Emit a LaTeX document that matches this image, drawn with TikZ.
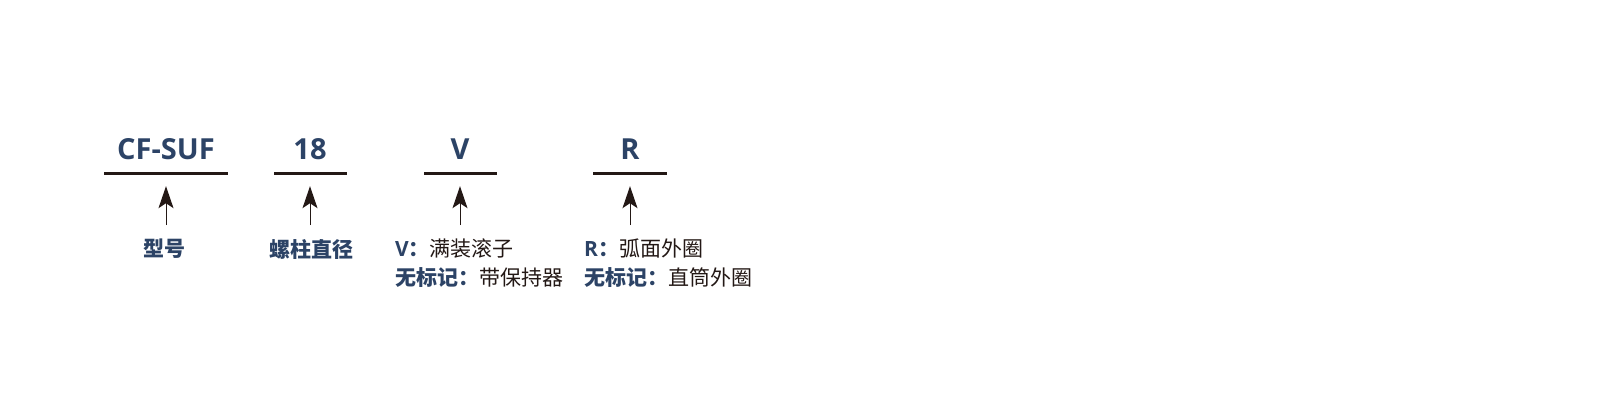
\documentclass[tikz,border=0pt]{standalone}
\usepackage{fontspec}
\setmainfont{Open Sans}
\newfontfamily\cjk{Noto Sans CJK SC}
\usetikzlibrary{arrows.meta}
\definecolor{navy}{HTML}{2C4366}
\definecolor{ink}{HTML}{231815}

\begin{document}
\begin{tikzpicture}[x=1pt, y=-1pt,
    code/.style={anchor=base, inner sep=0pt, text=navy, font=\fontsize{29}{31}\selectfont\bfseries},
    rule/.style={fill=ink, minimum height=3pt, inner sep=0pt},
    note/.style={inner sep=0pt, text=navy, align=left, font=\fontsize{21}{29}\selectfont},
    pointer/.style={-{Stealth[length=22pt, width=15pt, inset=5pt]}, draw=ink, line width=1pt,
      shorten <=14pt, shorten >=11.5pt}]
  \useasboundingbox (0,0) rectangle (1600,400);

  \node[code] (c1) at (166, 159) {CF-SUF};
  \node[code] (c2) at (310, 159) {18};
  \node[code] (c3) at (460, 159) {V};
  \node[code] (c4) at (630, 159) {R};

  \node[rule, minimum width=124pt] (u1) at (166, 173) {};
  \node[rule, minimum width=73pt] (u2) at (310, 173) {};
  \node[rule, minimum width=73pt] (u3) at (460, 173) {};
  \node[rule, minimum width=74pt] (u4) at (630, 173) {};

  \node[note, anchor=north] (d1) at (164, 239) {\cjk\bfseries 型号};
  \node[note, anchor=north] (d2) at (311, 239) {\cjk\bfseries 螺柱直径};
  \node[note, anchor=north west] (d3) at (395, 239)
    {{\bfseries V}{\cjk\bfseries ：}{\cjk\color{ink}满装滚子}\\
     {\cjk\bfseries 无标记：}{\cjk\color{ink}带保持器}};
  \node[note, anchor=north west] (d4) at (584, 239)
    {{\bfseries R}{\cjk\bfseries ：}{\cjk\color{ink}弧面外圈}\\
     {\cjk\bfseries 无标记：}{\cjk\color{ink}直筒外圈}};

  \draw[pointer] (u1.south |- d1.north) -- (u1.south);
  \draw[pointer] (u2.south |- d2.north) -- (u2.south);
  \draw[pointer] (u3.south |- d3.north) -- (u3.south);
  \draw[pointer] (u4.south |- d4.north) -- (u4.south);
\end{tikzpicture}
\end{document}
